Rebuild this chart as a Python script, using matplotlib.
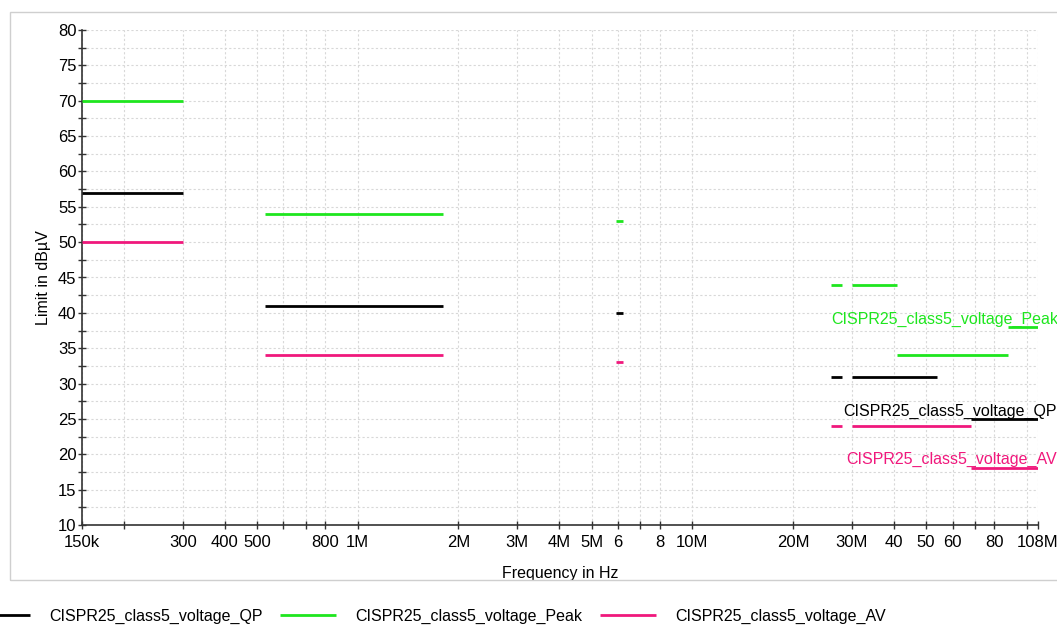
import matplotlib
matplotlib.use("Agg")
import matplotlib.pyplot as plt
from matplotlib.patches import Rectangle
from matplotlib.ticker import FixedLocator, NullLocator, MultipleLocator

plt.rcParams['font.family'] = ['Liberation Sans', 'DejaVu Sans']

# limit segments: start freq (Hz), stop freq (Hz), level (dBuV)
qp_start = [150e3, 530e3, 5.9e6, 26e6, 30e6, 68e6]
qp_stop = [300e3, 1.8e6, 6.2e6, 28e6, 54e6, 108e6]
qp_level = [57, 41, 40, 31, 31, 25]

peak_start = [150e3, 530e3, 5.9e6, 26e6, 30e6, 41e6, 88e6]
peak_stop = [300e3, 1.8e6, 6.2e6, 28e6, 41e6, 88e6, 108e6]
peak_level = [70, 54, 53, 44, 44, 34, 38]

av_start = [150e3, 530e3, 5.9e6, 26e6, 30e6, 68e6]
av_stop = [300e3, 1.8e6, 6.2e6, 28e6, 68e6, 108e6]
av_level = [50, 34, 33, 24, 24, 18]

tick_freqs = [150e3, 200e3, 300e3, 400e3, 500e3, 600e3, 700e3, 800e3, 1e6,
              2e6, 3e6, 4e6, 5e6, 6e6, 7e6, 8e6, 10e6, 20e6, 30e6, 40e6,
              50e6, 60e6, 70e6, 80e6, 100e6, 108e6]
tick_labels = ["150k", "", "300", "400", "500", "", "", "800", "1M",
               "2M", "3M", "4M", "5M", "6", "", "8", "10M", "20M", "30M", "40",
               "50", "60", "", "80", "", "108M"]

GREEN = "#1ee61e"
PINK = "#f0187c"
FS = 11.5

fig = plt.figure(figsize=(10.57, 6.25), dpi=100)
ax = fig.add_axes([82/1057, 1-525/625, (1038-82)/1057, (525-30)/625])

# outer frame
fig.patches.append(Rectangle((10/1057, 1-580/625), 1.2, (580-12)/625,
                             transform=fig.transFigure, fill=False,
                             edgecolor="#cfcfcf", lw=1, zorder=0))

ax.hlines(qp_level, qp_start, qp_stop, colors="black", lw=2,
          label="CISPR25_class5_voltage_QP", zorder=3)
ax.hlines(peak_level, peak_start, peak_stop, colors=GREEN, lw=2,
          label="CISPR25_class5_voltage_Peak", zorder=3)
ax.hlines(av_level, av_start, av_stop, colors=PINK, lw=2,
          label="CISPR25_class5_voltage_AV", zorder=3)

# series labels above the last segment
ax.text(26.0e6, peak_level[-1] + 0.5, "CISPR25_class5_voltage_Peak",
        color=GREEN, fontsize=FS, va="baseline", ha="left", clip_on=False)
ax.text(28.2e6, qp_level[-1] + 0.5, "CISPR25_class5_voltage_QP",
        color="black", fontsize=FS, va="baseline", ha="left", clip_on=False)
ax.text(28.8e6, av_level[-1] + 0.6, "CISPR25_class5_voltage_AV",
        color=PINK, fontsize=FS, va="baseline", ha="left", clip_on=False)

ax.set_xscale("log")
ax.set_xlim(150e3, 108e6)
ax.set_ylim(10, 80)
ax.xaxis.set_major_locator(FixedLocator(tick_freqs))
ax.set_xticklabels(tick_labels)
ax.xaxis.set_minor_locator(NullLocator())
ax.yaxis.set_major_locator(MultipleLocator(5))
ax.yaxis.set_minor_locator(MultipleLocator(2.5))

ax.grid(True, which="both", color="#d8d8d8", lw=0.8, linestyle=(0, (2, 2)))
ax.set_axisbelow(True)

for s in ["top", "right"]:
    ax.spines[s].set_visible(False)
for s in ["left", "bottom"]:
    ax.spines[s].set_color("#333333")
    ax.spines[s].set_linewidth(1.2)

ax.tick_params(axis="both", which="both", direction="inout", length=6,
               width=1, color="#333333", labelsize=12, labelcolor="black")
ax.tick_params(axis="y", which="major", pad=1)
ax.tick_params(axis="x", which="major", pad=4)

ax.set_ylabel("Limit in dBµV", fontsize=FS, labelpad=5)
ax.set_xlabel("Frequency in Hz", fontsize=FS, labelpad=12)

# legend, first handle runs off the left edge like in the original
fig.legend(loc="lower left", bbox_to_anchor=(-0.0307, -0.008), ncol=3,
           frameon=False, fontsize=FS, handlelength=3.5, handletextpad=1.2,
           columnspacing=1.1, borderaxespad=0.0)

fig.savefig("out.png", dpi=100)
